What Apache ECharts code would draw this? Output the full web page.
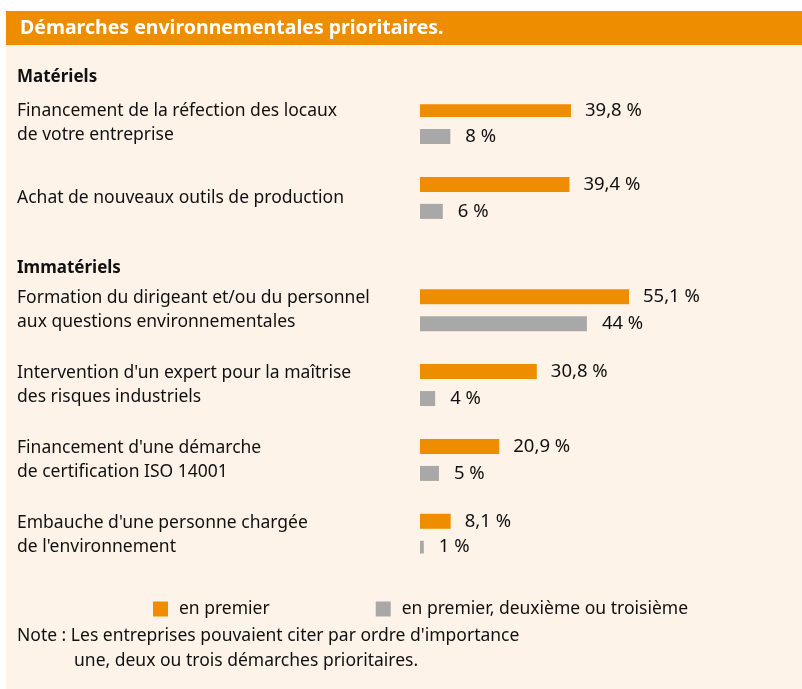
<!DOCTYPE html>
<html>
<head>
  <meta charset="utf-8">
  <title>Démarches environnementales prioritaires</title>
  <script src="https://fastly.jsdelivr.net/npm/echarts@6/dist/echarts.min.js"></script>
  <style>
    html, body { margin: 0; padding: 0; background: #fff; }
  </style>
</head>
<body>
<div id="chart-container" style="width: 802px; height: 689px;"></div>
<script type="text/javascript">
  // categories (one per group of bars); '' = empty slot used for spacing
  var categories = [
    'Financement de la réfection des locaux\nde votre entreprise',
    '',
    'Achat de nouveaux outils de production',
    '', '',
    'Formation du dirigeant et/ou du personnel\naux questions environnementales',
    '',
    'Intervention d\'un expert pour la maîtrise\ndes risques industriels',
    '',
    'Financement d\'une démarche\nde certification ISO 14001',
    '',
    'Embauche d\'une personne chargée\nde l\'environnement'
  ];
  var enPremier = [39.8, null, 39.4, null, null, 55.1, null, 30.8, null, 20.9, null, 8.1];
  var enPremierDeuxTrois = [8, null, 6, null, null, 44, null, 4, null, 5, null, 1];
  var seriesNames = ['en premier', 'en premier, deuxième ou troisième'];
  var sections = ['Matériels', 'Immatériels'];

  var FONT = '"Noto Sans", sans-serif';
  var ORANGE = '#ee8d00';
  var GREY = '#a8a8a8';
  var CREAM = '#fef3e9';

  function fmt(p) {
    return String(p.value).replace('.', ',') + ' %';
  }

  function txt(x, y, s, font) {
    return { type: 'text', x: x, y: y, style: { text: s, fill: '#111', font: font, verticalAlign: 'middle' } };
  }

  var dom = document.getElementById('chart-container');
  var myChart = echarts.init(dom, null, { renderer: 'canvas' });

  var option = {
    animation: false,
    textStyle: { fontFamily: FONT },
    graphic: [
      { type: 'rect', z: -10, shape: { x: 6, y: 11, width: 796, height: 678 }, style: { fill: CREAM } },
      { type: 'rect', z: -9, shape: { x: 6, y: 11, width: 796, height: 34 }, style: { fill: ORANGE } },
      { type: 'text', x: 20, y: 28, style: { text: 'Démarches environnementales prioritaires.', fill: '#fff', font: 'bold 19.5px ' + FONT, verticalAlign: 'middle' } },
      txt(17, 77, sections[0], 'bold 17px ' + FONT),
      txt(17, 268, sections[1], 'bold 17px ' + FONT),
      txt(17, 636, 'Note : Les entreprises pouvaient citer par ordre d\'importance', '17.5px ' + FONT),
      txt(74, 661, 'une, deux ou trois démarches prioritaires.', '17.5px ' + FONT)
    ],
    legend: {
      left: 148,
      top: 595,
      itemWidth: 15,
      itemHeight: 15,
      itemGap: 106,
      icon: 'rect',
      textStyle: { fontSize: 17.5, color: '#111', fontFamily: FONT, padding: [0, 0, 0, 6] },
      data: seriesNames
    },
    grid: {
      left: 420,
      top: 104.3,
      width: 379.3,
      height: 449.2,
      containLabel: false
    },
    xAxis: {
      type: 'value',
      min: 0,
      max: 100,
      show: false
    },
    yAxis: {
      type: 'category',
      inverse: true,
      data: categories,
      axisLine: { show: false },
      axisTick: { show: false },
      splitLine: { show: false },
      axisLabel: {
        align: 'left',
        margin: 403,
        fontSize: 17.5,
        lineHeight: 24,
        color: '#111',
        fontFamily: FONT
      }
    },
    series: [
      {
        name: seriesNames[0],
        type: 'bar',
        data: enPremier,
        barWidth: 15,
        barGap: '80%',
        itemStyle: { color: ORANGE },
        label: { show: true, position: 'right', distance: 14, formatter: fmt, fontSize: 18.5, color: '#111', fontFamily: FONT }
      },
      {
        name: seriesNames[1],
        type: 'bar',
        data: enPremierDeuxTrois,
        barWidth: 15,
        itemStyle: { color: GREY },
        label: { show: true, position: 'right', distance: 15, formatter: fmt, fontSize: 18.5, color: '#111', fontFamily: FONT }
      }
    ]
  };

  myChart.setOption(option);
  window.addEventListener('resize', myChart.resize);
</script>
</body>
</html>
